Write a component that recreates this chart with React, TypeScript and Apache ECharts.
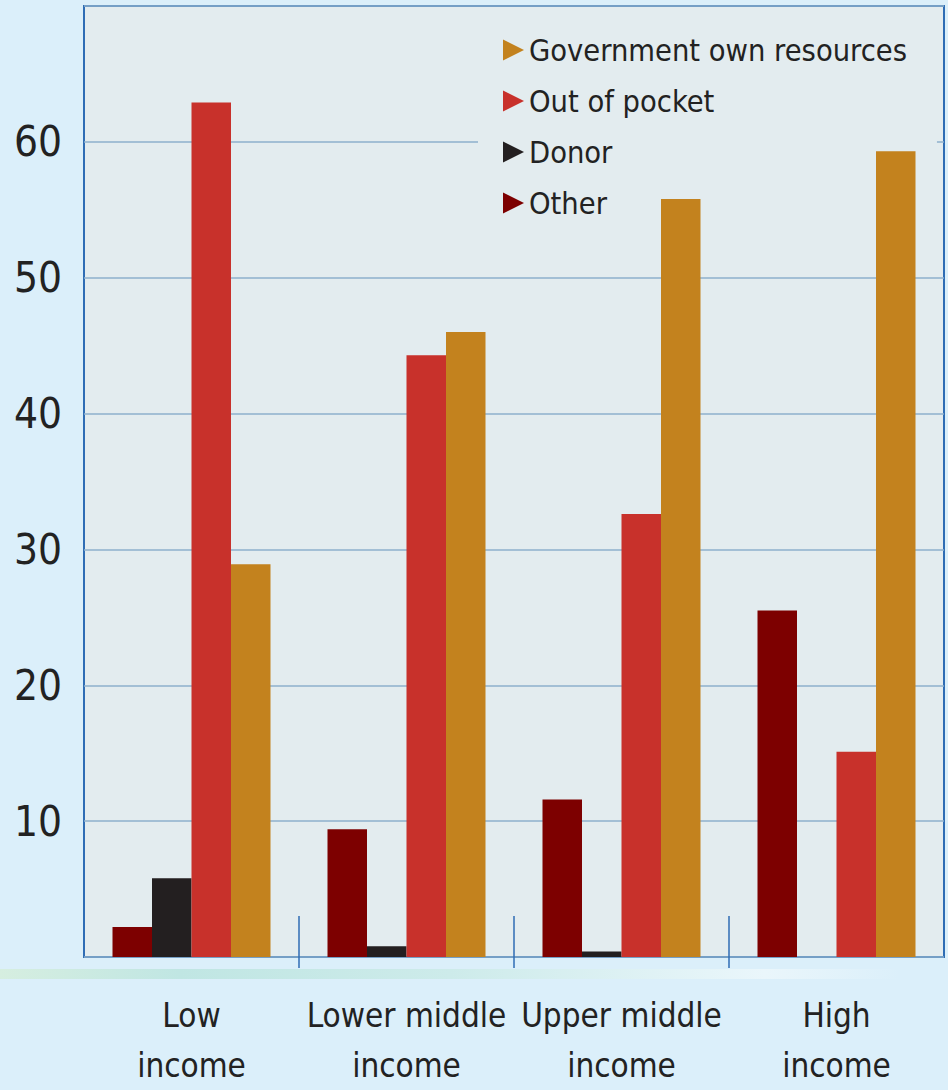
import React, { useEffect, useRef } from "react";
import * as echarts from "echarts";

const categories = ["Low\nincome", "Lower middle\nincome", "Upper middle\nincome", "High\nincome"];
const otherValues = [2.2, 9.4, 11.6, 25.5];
const donorValues = [5.8, 0.8, 0.4, 0];
const outOfPocketValues = [62.9, 44.3, 32.6, 15.1];
const governmentValues = [28.9, 46.0, 55.8, 59.3];
const legendOrder = ["Government own resources", "Out of pocket", "Donor", "Other"];
const yTicks = [10, 20, 30, 40, 50, 60];

const FONT = "'Liberation Sans Narrow', 'DejaVu Sans Condensed', 'Noto Sans', sans-serif";
const PAGE_BG = "#dbeffa";
const PLOT_BG = "#e3ecef";
const BLUE = "#2f6db5";
const TRI = "path://M0,0 L10,5 L0,10 Z";

export default function App() {
  const ref = useRef<HTMLDivElement>(null);
  useEffect(() => {
    if (!ref.current) return;
    const chart = echarts.init(ref.current, undefined, { renderer: "svg" });
    const barCommon = {
      type: "bar" as const,
      barWidth: 39.5,
      barGap: "0%",
      z: 5,
      xAxisIndex: 0,
    };
    chart.setOption({
      animation: false,
      backgroundColor: PAGE_BG,
      textStyle: { fontFamily: FONT },
      grid: {
        left: 84,
        right: 4,
        top: 6,
        bottom: 132,
        show: true,
        backgroundColor: PLOT_BG,
        borderColor: BLUE,
        borderWidth: 2,
      },
      graphic: [
        {
          type: "rect",
          left: 0,
          top: 969,
          shape: { width: 900, height: 10 },
          silent: true,
          style: {
            fill: {
              type: "linear",
              x: 0,
              y: 0,
              x2: 1,
              y2: 0,
              colorStops: [
                { offset: 0, color: "#d6eee0" },
                { offset: 0.2, color: "#c0e6e3" },
                { offset: 0.5, color: "#cdebea" },
                { offset: 0.85, color: "#eaf6fb" },
                { offset: 1, color: "rgba(234,246,251,0)" },
              ],
            },
          },
        },
      ],
      legend: {
        data: legendOrder,
        orient: "vertical",
        left: 478,
        top: 8,
        padding: [20, 30, 20, 25],
        backgroundColor: PLOT_BG,
        itemGap: 7,
        itemWidth: 21,
        itemHeight: 22,
        icon: TRI,
        textStyle: {
          fontFamily: FONT,
          fontSize: 30.5,
          lineHeight: 44,
          color: "#222",
        },
      },
      xAxis: [
        {
          type: "category",
          data: categories,
          position: "bottom",
          axisLine: { show: false },
          axisTick: { show: false },
          axisLabel: {
            fontFamily: FONT,
            fontSize: 33,
            lineHeight: 50,
            color: "#222",
            margin: 33,
            interval: 0,
          },
        },
        {
          type: "category",
          data: ["a", "b", "c", "d", "e"],
          position: "bottom",
          boundaryGap: false,
          offset: 11,
          axisLine: { show: false, onZero: false },
          axisLabel: { show: false },
          axisTick: {
            show: true,
            inside: true,
            length: 52,
            interval: (i: number) => i > 0 && i < 4,
            lineStyle: { color: BLUE, width: 1.5 },
          },
        },
      ],
      yAxis: {
        type: "value",
        min: 0,
        max: 70,
        interval: 10,
        axisLine: { show: false },
        axisTick: { show: false },
        splitLine: { lineStyle: { color: "#8eb0cd", width: 1.5 } },
        axisLabel: {
          fontFamily: FONT,
          fontSize: 42,
          color: "#222",
          margin: 22,
          formatter: (v: number) => (yTicks.includes(v) ? String(v) : ""),
        },
      },
      series: [
        { ...barCommon, name: "Other", data: otherValues, itemStyle: { color: "#7d0000" } },
        { ...barCommon, name: "Donor", data: donorValues, itemStyle: { color: "#231f20" } },
        { ...barCommon, name: "Out of pocket", data: outOfPocketValues, itemStyle: { color: "#c8312b" } },
        { ...barCommon, name: "Government own resources", data: governmentValues, itemStyle: { color: "#c3821e" } },
      ],
    });
    return () => chart.dispose();
  }, []);
  return (
    <div
      ref={ref}
      style={{ position: "fixed", left: 0, top: 0, width: 948, height: 1090 }}
    />
  );
}
